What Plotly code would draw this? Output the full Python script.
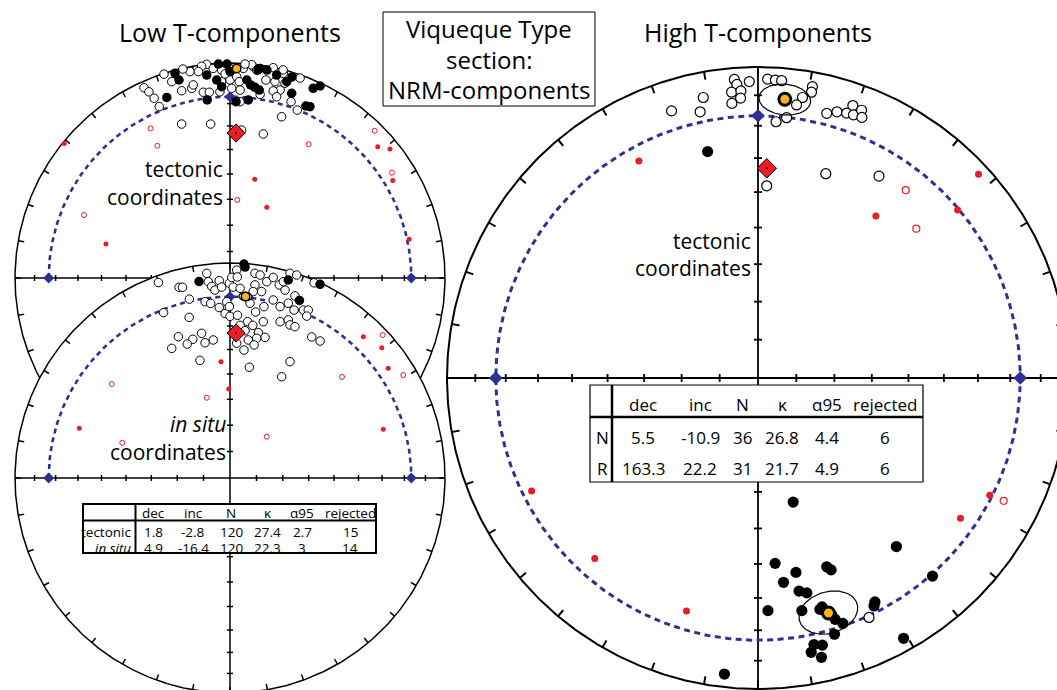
import numpy as np
import plotly.graph_objects as go

W, H = 1057, 690

# ---------------- data ----------------
# Site directions plotted on equal-area nets, given as east / north
# coordinates in % of the primitive radius.
# open = upper hemisphere, filled = lower hemisphere, red = rejected.

# Low T, tectonic coordinates
lowT_tect_open_e = [-10.8, -13.2, -7.8, -3.9, 0.0, 6.2, 10.8, 10.1, 12.4, 20.1, 24.8, 32.6, -30.7, -18.6, -14.7,
                    -27.1, -22.5, -17.8, -17.1, -12.4, -9.6, -3.9, -4.7, 0.0, 0.8, 3.1, 4.3, 4.7, 4.7, 16.7,
                    20.9, 23.3, 25.6, 20.1, 21.7, 14.0, 28.4, 31.3, -40.0, -37.7, -35.3, -32.9, 24.0, 15.5,
                    -22.5, -9.0, 5.4, 7.0, -2.3, 24.7, -21.9]
lowT_tect_open_n = [99.4, 98.5, 97.5, 96.7, 97.5, 97.5, 98.3, 99.2, 96.7, 97.8, 95.2, 93.0, 94.8, 96.0, 96.0,
                    91.3, 87.1, 88.2, 89.8, 86.4, 86.4, 91.3, 86.6, 92.1, 88.2, 93.6, 91.3, 87.4, 82.0, 92.1,
                    91.3, 87.4, 90.6, 87.0, 84.3, 85.4, 82.0, 78.1, 88.5, 86.6, 83.6, 79.7, 75.0, 67.0,
                    71.6, 71.6, 68.8, 99.5, 94.9, 96.8, 97.2]
lowT_tect_fill_e = [-5.4, -1.4, -10.8, 0.0, 13.0, 17.2, 14.0, 21.7, -25.6, -23.7, -29.4, -10.6, -6.2, -3.9,
                    2.8, 8.5, 7.8, 9.6, 11.6, 13.6, 26.4, 28.7, 28.8, 38.7, 41.9, 35.3, 37.2]
lowT_tect_fill_n = [99.5, 99.5, 94.4, 96.0, 96.7, 96.7, 97.5, 94.4, 95.2, 92.1, 84.0, 82.8, 92.1, 89.0,
                    82.0, 82.8, 92.1, 89.8, 88.7, 87.4, 91.3, 85.9, 93.5, 88.2, 89.3, 80.0, 79.7]
lowT_tect_rej_fill_e = [-77.1, -57.7, 11.5, 17.1, 68.7, 74.4, 75.7, 83.3]
lowT_tect_rej_fill_n = [62.6, 15.8, 45.9, 32.9, 61.1, 60.0, 45.3, 18.0]
lowT_tect_rej_open_e = [-36.9, -33.8, -67.9, 3.4, 36.6, 67.3, 75.3]
lowT_tect_rej_open_n = [69.6, 61.5, 29.3, 36.3, 62.2, 68.5, 49.0]

# Low T, in situ coordinates
lowT_situ_open_e = [-33.3, -23.7, -22.1, -18.9, -30.9, -19.0, -10.8, -10.1, -8.5, -7.0, -5.0, -3.9, -11.6, -9.0,
                    -5.0, -2.3, 0.0, 3.5, -0.3, 0.8, 1.5, 3.1, 3.4, 4.7, -1.5, -0.3, 9.3, 11.6, 14.0, 11.6,
                    14.7, 10.8, 17.1, 20.1, 22.9, 25.6, 24.8, 27.9, 31.0, 39.1, 15.8, 11.9, 15.5, 23.3, 27.1,
                    30.2, 29.8, 34.1, 36.4, 23.3, 27.1, 27.9, 30.2, 8.2, 4.7, 7.0, 10.6, 13.2, 16.3, 12.4,
                    8.5, 3.1, 6.5, 11.2, -7.8, -11.6, -13.2, -17.3, -24.0, -19.9, -27.1, 38.0, 41.9, -14.0,
                    9.0, 24.0, 27.9, 20.1, 35.7]
lowT_situ_open_n = [90.9, 88.7, 88.7, 83.2, 76.9, 74.7, 95.2, 91.3, 89.1, 87.4, 91.8, 88.8, 82.0, 81.2,
                    79.3, 76.5, 75.2, 75.7, 90.6, 93.3, 88.8, 96.7, 93.5, 88.2, 82.0, 79.7, 81.3, 95.2, 94.4, 89.8,
                    86.7, 86.7, 91.3, 93.3, 89.8, 87.4, 91.3, 95.2, 94.4, 90.8, 79.7, 77.2, 72.7, 79.7, 81.3,
                    84.7, 78.1, 78.1, 78.1, 72.7, 73.5, 71.2, 70.4, 72.7, 71.0, 68.5, 71.0, 67.6, 65.4, 65.0,
                    64.2, 62.7, 59.5, 61.9, 64.2, 62.9, 67.3, 64.5, 65.7, 62.3, 60.3, 65.6, 63.7, 54.7,
                    51.5, 47.1, 54.1, 82.8, 75.3]
lowT_situ_fill_e = [7.0, 6.5, -14.4, 27.1, 41.9, 32.3]
lowT_situ_fill_n = [98.1, 99.5, 91.4, 92.1, 90.1, 82.6]
lowT_situ_rej_fill_e = [-4.2, -0.6, -70.1, 62.0, 70.6, 73.6, 71.3]
lowT_situ_rej_fill_n = [54.1, 41.4, 23.1, 65.7, 60.6, 51.0, 22.7]
lowT_situ_rej_open_e = [-55.0, -50.1, -10.8, 17.1, 52.1, 71.0, 80.6]
lowT_situ_rej_open_n = [43.7, 16.4, 37.3, 19.2, 47.0, 66.5, 47.9]

# High T, tectonic coordinates
highT_open_e = [-27.8, -18.6, -17.6, -7.6, -6.8, -2.8, -8.5, -5.5, -5.6, -8.4, 3.1, 5.6, 7.6, 17.5, 17.2,
                14.3, 12.4, 5.8, 9.2, 22.1, 25.4, 28.5, 30.5, 30.7, 33.3, 33.4, 21.8, 38.9, 2.8, 35.7]
highT_open_n = [85.9, 85.6, 90.2, 96.0, 94.4, 95.3, 91.9, 92.3, 90.0, 88.3, 96.1, 95.8, 95.6, 93.7, 91.9,
                90.2, 87.8, 82.4, 83.7, 85.1, 85.6, 85.2, 87.6, 84.6, 86.1, 83.8, 65.7, 64.9, 61.8, -77.0]
highT_fill_e = [-16.2, 11.3, 44.5, 5.5, 12.2, 8.2, 22.1, 23.5, 13.2, 15.7, 3.2, 14.1, 19.9, 23.7, 24.8,
                27.3, 24.6, 37.6, 37.3, 56.1, 46.8, 18.0, 20.7, 17.1, 20.4, -10.8, 20.6]
highT_fill_n = [72.8, -39.9, -54.2, -59.6, -62.5, -65.7, -60.7, -61.7, -68.5, -69.1, -74.8, -74.8, -74.4,
                -76.2, -77.6, -78.9, -82.4, -72.0, -73.3, -63.7, -83.7, -85.7, -85.9, -88.2, -89.8, -95.2, -73.6]
highT_rej_fill_e = [-38.3, 70.9, 37.9, 64.2, -72.8, -52.5, -23.0, 74.5, 65.1]
highT_rej_fill_n = [69.8, 65.5, 52.1, 54.0, -36.3, -58.0, -74.9, -37.7, -45.1]
highT_rej_open_e = [47.5, 50.9, 79.0]
highT_rej_open_n = [60.4, 48.0, -39.5]

# Statistics tables
lowT_rows = ["tectonic", "<i>in situ</i>"]
lowT_dec = [1.8, 4.9]
lowT_inc = [-2.8, -16.4]
lowT_N = [120, 120]
lowT_kappa = [27.4, 22.3]
lowT_a95 = [2.7, 3]
lowT_rej = [15, 14]

highT_rows = ["N", "R"]
highT_dec = [5.5, 163.3]
highT_inc = [-10.9, 22.2]
highT_N = [36, 31]
highT_kappa = [26.8, 21.7]
highT_a95 = [4.4, 4.9]
highT_rej = [6, 6]

table_header = ["dec", "inc", "N", "κ", "α95", "rejected"]

ref_dec, ref_inc = 2.4, -33.0        # red diamond reference direction
dashed_inc = 16.8                    # dashed small circle
cone_lowT_situ = 2.0                 # drawn confidence circles (deg)
cone_highT = [5.2, 6.5]

# ---------------- helpers ----------------
RED = "#ED1C24"
BLUE = "#2E3192"
GOLD = "#FBB416"
FONT = "Open Sans, Noto Sans, sans-serif"


def ea_r(inc):
    th = np.radians(90 - np.abs(np.asarray(inc, dtype=float)))
    return 100 * np.sqrt(2) * np.sin(th / 2)


def project(dec, inc):
    r = ea_r(inc)
    d = np.radians(np.asarray(dec, dtype=float))
    return r * np.sin(d), r * np.cos(d)


def cone(dec, inc, a, n=180):
    d, i, a = np.radians([dec, inc, a])
    m = np.array([np.cos(i) * np.cos(d), np.cos(i) * np.sin(d), np.sin(i)])
    u = np.array([-np.sin(i) * np.cos(d), -np.sin(i) * np.sin(d), np.cos(i)])
    v = np.cross(m, u)
    t = np.linspace(0, 2 * np.pi, n)
    p = np.cos(a) * m[:, None] + np.sin(a) * (np.cos(t) * u[:, None] + np.sin(t) * v[:, None])
    decs = np.degrees(np.arctan2(p[1], p[0]))
    incs = np.degrees(np.arcsin(np.clip(p[2], -1, 1)))
    return project(decs, incs)


fig = go.Figure()


def add_net(xa, ya, R, full_dash, st):
    k = 100.0 / R  # net units per pixel
    t = np.linspace(0, 2 * np.pi, 721)
    common = dict(xaxis=xa, yaxis=ya, hoverinfo="skip", showlegend=False)
    fig.add_trace(go.Scatter(x=100 * np.sin(t), y=100 * np.cos(t), mode="lines", fill="toself",
                             fillcolor="white", line=dict(color="black", width=st["lw"]), **common))
    fig.add_trace(go.Scatter(x=[-100, 100, None, 0, 0], y=[0, 0, None, -100, 100], mode="lines",
                             line=dict(color="black", width=st["alw"]), **common))
    # axis ticks at 10 deg inclination steps
    tx, ty = [], []
    h = st["atick"] * k
    for inc in range(10, 90, 10):
        r = float(ea_r(90 - inc))
        for s in (-1, 1):
            tx += [s * r, s * r, None]; ty += [-h, h, None]
            tx += [-h, h, None]; ty += [s * r, s * r, None]
    fig.add_trace(go.Scatter(x=tx, y=ty, mode="lines", line=dict(color="black", width=st["alw"]), **common))
    # perimeter ticks every 10 deg
    px_, py_ = [], []
    L = st["ptick"] * k
    for az in range(0, 360, 10):
        a = np.radians(az)
        px_ += [100 * np.sin(a), (100 - L) * np.sin(a), None]
        py_ += [100 * np.cos(a), (100 - L) * np.cos(a), None]
    fig.add_trace(go.Scatter(x=px_, y=py_, mode="lines", line=dict(color="black", width=st["lw"]), **common))
    # dashed small circle
    rd = float(ea_r(dashed_inc))
    tt = np.linspace(-np.pi / 2, np.pi / 2, 361) if not full_dash else np.linspace(0, 2 * np.pi, 721)
    fig.add_trace(go.Scatter(x=rd * np.sin(tt), y=rd * np.cos(tt), mode="lines",
                             line=dict(color=BLUE, width=st["dlw"], dash=st["dash"]), **common))
    fig.add_trace(go.Scatter(x=[-rd, rd, 0], y=[0, 0, rd], mode="markers",
                             marker=dict(symbol="diamond", size=st["bd"], color=BLUE), **common))


def add_points(xa, ya, st, open_e, open_n, fill_e, fill_n, rfe, rfn, roe, ron):
    common = dict(xaxis=xa, yaxis=ya, hoverinfo="skip", showlegend=False, mode="markers", cliponaxis=False)
    fig.add_trace(go.Scatter(x=rfe, y=rfn, marker=dict(size=st["rs"], color=RED, line=dict(width=0)), **common))
    fig.add_trace(go.Scatter(x=roe, y=ron, marker=dict(size=st["rs"], color="white",
                                                        line=dict(color=RED, width=st["rlw"])), **common))
    fig.add_trace(go.Scatter(x=open_e, y=open_n, marker=dict(size=st["ps"], color="white",
                                                              line=dict(color="black", width=st["plw"])), **common))
    fig.add_trace(go.Scatter(x=fill_e, y=fill_n, marker=dict(size=st["ps"] + st["plw"], color="black",
                                                              line=dict(width=0)), **common))


def add_ref(xa, ya, size):
    x, y = project([ref_dec], [ref_inc])
    common = dict(xaxis=xa, yaxis=ya, hoverinfo="skip", showlegend=False, mode="markers")
    fig.add_trace(go.Scatter(x=x, y=y, marker=dict(symbol="diamond", size=size, color=RED,
                                                   line=dict(color="black", width=1)), **common))
    fig.add_trace(go.Scatter(x=x, y=y, marker=dict(size=2, color="black"), **common))


def add_mean(xa, ya, dec, inc, a, msize, mlw):
    common = dict(xaxis=xa, yaxis=ya, hoverinfo="skip", showlegend=False)
    if a:
        cx, cy = cone(dec, inc, a)
        fig.add_trace(go.Scatter(x=cx, y=cy, mode="lines", line=dict(color="black", width=1.2), **common))
    x, y = project([dec], [inc])
    fig.add_trace(go.Scatter(x=x, y=y, mode="markers", marker=dict(size=msize, color=GOLD,
                                                                  line=dict(color="black", width=mlw)), **common))


st_small = dict(lw=1.5, alw=1.5, atick=3, ptick=6, dlw=2.6, dash="5px,4px", bd=8.5,
                rs=5, rlw=1, ps=8.5, plw=1)
st_big = dict(lw=2, alw=1.8, atick=4, ptick=8, dlw=3, dash="6px,4.5px", bd=10.5,
              rs=7, rlw=1.2, ps=10, plw=1.2)

# Net A: low T tectonic
add_net("x", "y", 215, False, st_small)
add_points("x", "y", st_small, lowT_tect_open_e, lowT_tect_open_n, lowT_tect_fill_e, lowT_tect_fill_n,
           lowT_tect_rej_fill_e, lowT_tect_rej_fill_n, lowT_tect_rej_open_e, lowT_tect_rej_open_n)
add_ref("x", "y", 14)
add_mean("x", "y", lowT_dec[0], lowT_inc[0], 0, 8.5, 1.5)

# Net B: low T in situ
add_net("x2", "y2", 215, False, st_small)
add_points("x2", "y2", st_small, lowT_situ_open_e, lowT_situ_open_n, lowT_situ_fill_e, lowT_situ_fill_n,
           lowT_situ_rej_fill_e, lowT_situ_rej_fill_n, lowT_situ_rej_open_e, lowT_situ_rej_open_n)
add_ref("x2", "y2", 14)
add_mean("x2", "y2", lowT_dec[1], lowT_inc[1], cone_lowT_situ, 8.5, 1.5)

# Net C: high T tectonic
add_net("x3", "y3", 311, True, st_big)
add_points("x3", "y3", st_big, highT_open_e, highT_open_n, highT_fill_e, highT_fill_n,
           highT_rej_fill_e, highT_rej_fill_n, highT_rej_open_e, highT_rej_open_n)
add_ref("x3", "y3", 15)
for j in range(2):
    add_mean("x3", "y3", highT_dec[j], highT_inc[j], cone_highT[j], 12, 3)


def axes(cx, cy, R, box, anchor):
    x0, y0, x1, y1 = box
    s = R / 100.0
    xa = dict(domain=[x0 / W, x1 / W], range=[(x0 - cx) / s, (x1 - cx) / s], visible=False,
              fixedrange=True, anchor=anchor[1])
    ya = dict(domain=[1 - y1 / H, 1 - y0 / H], range=[(cy - y1) / s, (cy - y0) / s], visible=False,
              fixedrange=True, anchor=anchor[0])
    return xa, ya


xa1, ya1 = axes(230, 278, 215, (0, 40, 460, 480), ("x", "y"))
xa2, ya2 = axes(230, 478, 215, (0, 250, 460, 690), ("x2", "y2"))
xa3, ya3 = axes(758, 378, 311, (440, 55, 1057, 690), ("x3", "y3"))


def PX(x):
    return x / W


def PY(y):
    return 1 - y / H


annotations = []
shapes = []


def ann(text, x, y, size, xanchor="center", color="black"):
    annotations.append(dict(text=text, x=PX(x), y=PY(y), xref="paper", yref="paper", showarrow=False,
                            xanchor=xanchor, yanchor="middle", font=dict(family=FONT, size=size, color=color)))


ann("Low T-components", 230, 32, 25)
ann("High T-components", 758, 32, 25)
for txt, yy in zip(["Viqueque Type", "section:", "NRM-components"], [28, 59, 89]):
    ann(txt, 489, yy, 24)
shapes.append(dict(type="rect", xref="paper", yref="paper", x0=PX(383), x1=PX(595), y0=PY(12), y1=PY(106),
                   line=dict(color="black", width=1), fillcolor="white", layer="above"))

ann("tectonic", 225, 169, 21, "right")
ann("coordinates", 225, 197, 21, "right")
ann("<i>in situ</i>", 228, 424, 21, "right")
ann("coordinates", 228, 452, 21, "right")
ann("tectonic", 753, 241, 21, "right")
ann("coordinates", 753, 268, 21, "right")


def table(box, colsep, hline, col_x, label_x, row_y, head_y, size, rows, cols, lw_out, lw_in, label_anchor):
    x0, y0, x1, y1 = box
    shapes.append(dict(type="rect", xref="paper", yref="paper", x0=PX(x0), x1=PX(x1), y0=PY(y0), y1=PY(y1),
                       line=dict(color="black", width=lw_out), fillcolor="white", layer="above"))
    shapes.append(dict(type="line", xref="paper", yref="paper", x0=PX(x0), x1=PX(x1), y0=PY(hline), y1=PY(hline),
                       line=dict(color="black", width=lw_in), layer="above"))
    shapes.append(dict(type="line", xref="paper", yref="paper", x0=PX(colsep), x1=PX(colsep), y0=PY(y0), y1=PY(y1),
                       line=dict(color="black", width=lw_in), layer="above"))
    for h, cx in zip(table_header, col_x):
        ann(h, cx, head_y, size)
    for i, lab in enumerate(rows):
        ann(lab, label_x, row_y[i], size, label_anchor)
        vals = [c[i] for c in cols]
        for v, cx in zip(vals, col_x):
            ann(str(v), cx, row_y[i], size)


table((83, 504, 376, 553), 135.5, 520.5, [153, 193, 231, 267, 302, 350], 133, [532, 547.5], 512.5, 13.5,
      lowT_rows, [lowT_dec, lowT_inc, lowT_N, lowT_kappa, lowT_a95, lowT_rej], 2, 2, "right")
table((590, 385, 923, 482), 612, 417, [643, 700, 742, 782, 827, 885], 602, [437, 468], 404, 17,
      highT_rows, [highT_dec, highT_inc, highT_N, highT_kappa, highT_a95, highT_rej], 1.2, 2.5, "center")

fig.update_layout(width=W, height=H, margin=dict(l=0, r=0, t=0, b=0), autosize=False,
                  paper_bgcolor="white", plot_bgcolor="rgba(0,0,0,0)", showlegend=False,
                  xaxis=xa1, yaxis=ya1, xaxis2=xa2, yaxis2=ya2, xaxis3=xa3, yaxis3=ya3,
                  annotations=annotations, shapes=shapes)

fig.write_html("out.html", config={"displayModeBar": False})
